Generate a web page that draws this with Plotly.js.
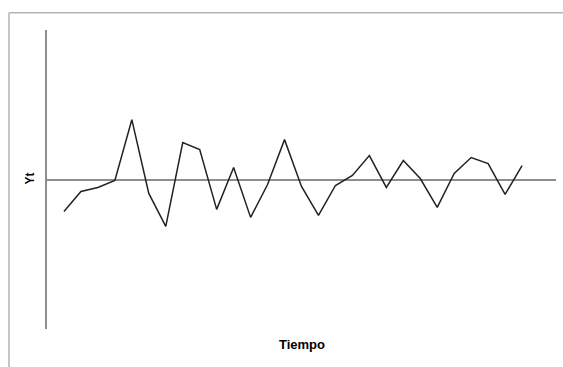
<!DOCTYPE html>
<html>
<head>
<meta charset="utf-8">
<script src="https://cdn.plot.ly/plotly-3.0.1.min.js"></script>
<style>
  html, body { margin: 0; padding: 0; background: #fff; }
  #chart { width: 563px; height: 367px; }
</style>
</head>
<body>
<div id="chart"></div>
<script>
// Time index and the series Yt (deviations around zero)
const tiempo = [1, 2, 3, 4, 5, 6, 7, 8, 9, 10, 11, 12, 13, 14,
                15, 16, 17, 18, 19, 20, 21, 22, 23, 24, 25, 26, 27, 28];
const yt = [-3.2, -1.2, -0.8, -0.1, 6.0, -1.4, -4.7, 3.7, 3.0, -3.0, 1.2, -3.8, -0.5, 4.0,
            -0.7, -3.6, -0.6, 0.4, 2.4, -0.8, 1.9, 0.1, -2.8, 0.6, 2.2, 1.6, -1.5, 1.4];

const xLabel = 'Tiempo';
const yLabel = 'Yt';

const axisGray = '#8e8e8e';
const frameGray = '#b4b4b4';
const labelFont = { family: 'Liberation Sans, Arial, sans-serif', size: 13, color: '#000' };

const trace = {
  x: tiempo,
  y: yt,
  type: 'scatter',
  mode: 'lines',
  line: { color: '#222', width: 1.5 },
  hoverinfo: 'skip'
};

const layout = {
  width: 563,
  height: 367,
  margin: { l: 47, r: 7, t: 30, b: 38 },
  paper_bgcolor: '#fff',
  plot_bgcolor: '#fff',
  showlegend: false,
  xaxis: {
    range: [0, 30],
    showgrid: false,
    zeroline: false,
    showline: false,
    showticklabels: false,
    ticks: '',
    fixedrange: true
  },
  yaxis: {
    range: [-15, 15],
    showgrid: false,
    zeroline: true,
    zerolinecolor: axisGray,
    zerolinewidth: 2,
    showline: true,
    linecolor: axisGray,
    linewidth: 2,
    showticklabels: false,
    ticks: '',
    fixedrange: true
  },
  shapes: [
    // outer frame: left and top edges
    { type: 'line', xref: 'paper', yref: 'paper', x0: -0.0747, x1: -0.0747, y0: 1.058, y1: -0.2,
      line: { color: frameGray, width: 1.5 } },
    { type: 'line', xref: 'paper', yref: 'paper', x0: -0.0747, x1: 1.05, y0: 1.058, y1: 1.058,
      line: { color: frameGray, width: 1.5 } }
  ],
  annotations: [
    { text: '<b>' + xLabel + '</b>', xref: 'paper', yref: 'paper',
      x: (302 - 47) / 509, y: (329 - 344) / 299, xanchor: 'center', yanchor: 'middle',
      showarrow: false, font: labelFont },
    { text: '<b>' + yLabel + '</b>', xref: 'paper', yref: 'paper',
      x: (29.5 - 47) / 509, y: (329 - 179) / 299, xanchor: 'center', yanchor: 'middle',
      textangle: -90, showarrow: false, font: Object.assign({}, labelFont, { size: 12 }) }
  ]
};

Plotly.newPlot('chart', [trace], layout, { displayModeBar: false, staticPlot: true });
</script>
</body>
</html>
